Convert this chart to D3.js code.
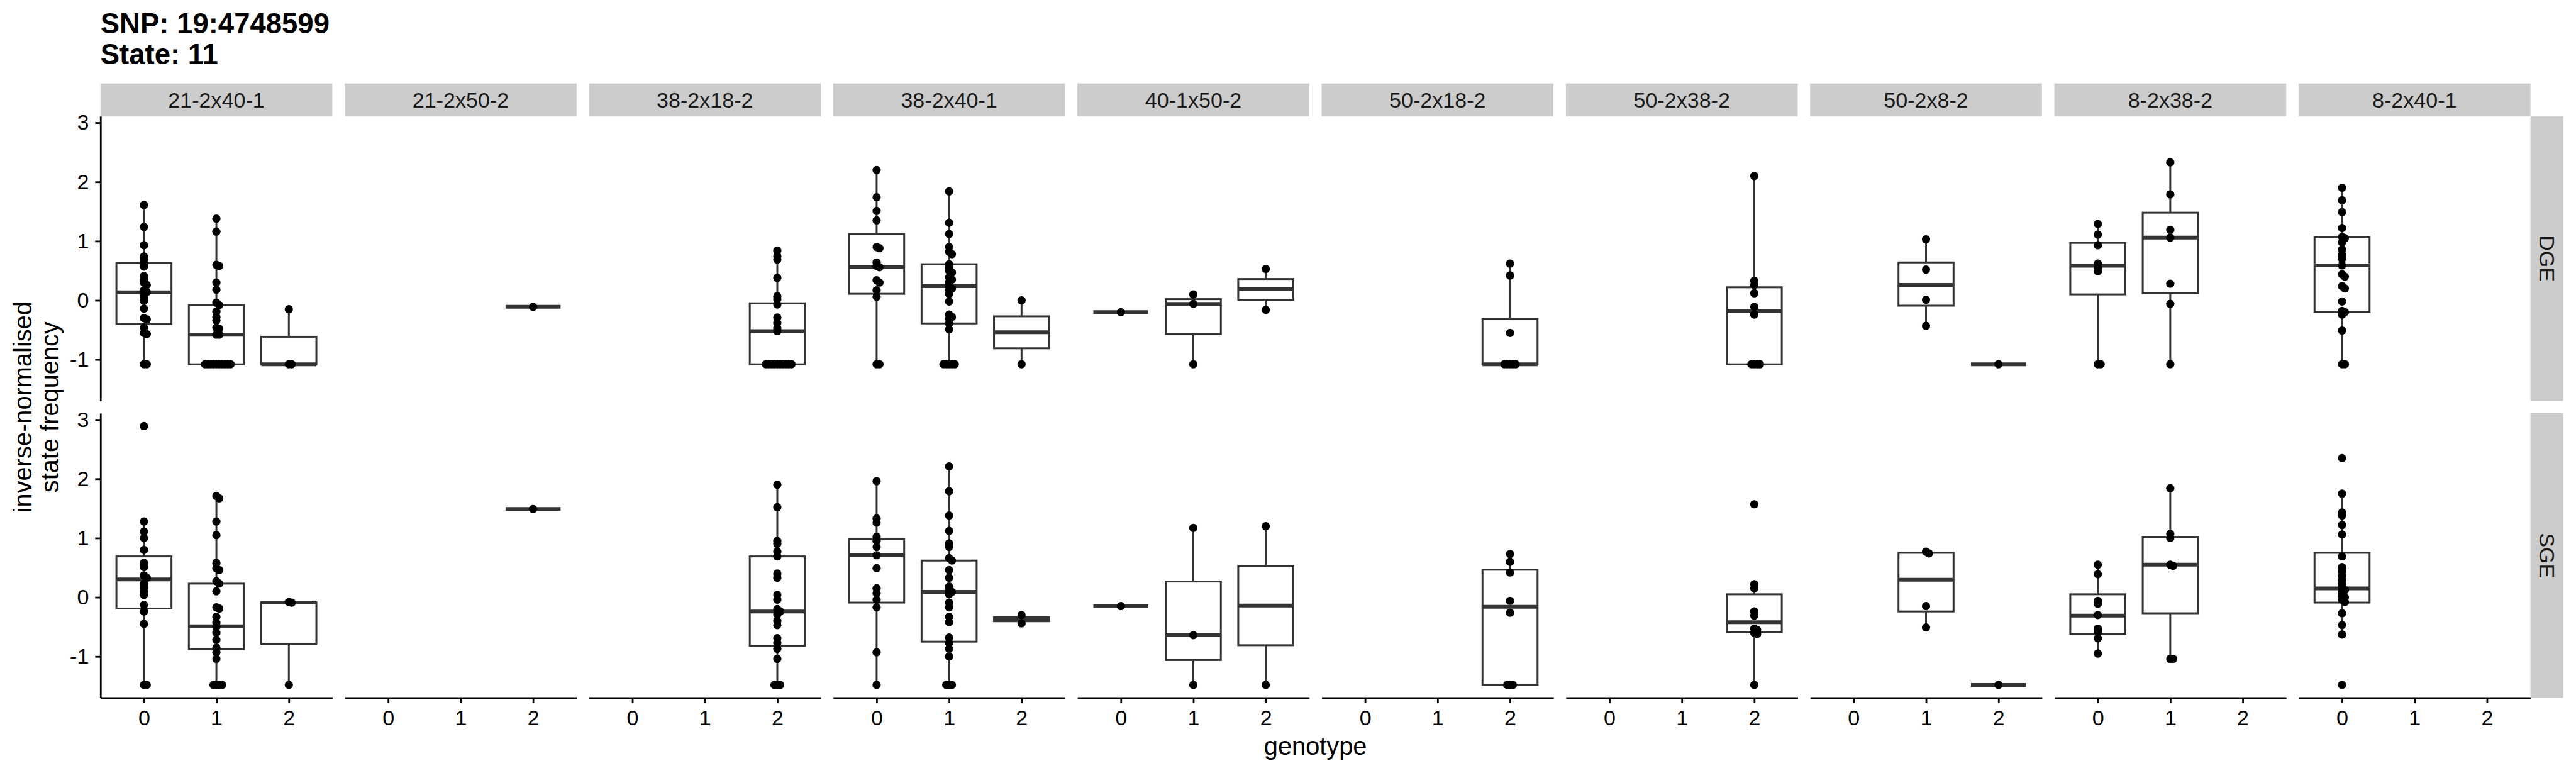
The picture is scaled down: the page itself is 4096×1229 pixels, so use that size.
<!DOCTYPE html>
<html><head><meta charset="utf-8">
<script src="https://cdn.jsdelivr.net/npm/d3@7"></script>
<style>body{margin:0;background:#fff}svg{display:block}</style>
</head><body><svg id="chart" width="4096" height="1229"></svg>
<script>
const titleLines = ["SNP: 19:4748599", "State: 11"];
const facets = ["21-2x40-1","21-2x50-2","38-2x18-2","38-2x40-1","40-1x50-2","50-2x18-2","50-2x38-2","50-2x8-2","8-2x38-2","8-2x40-1"];
const rows = ["DGE", "SGE"];
const genotypes = ["0", "1", "2"];
const yTicks = [-1, 0, 1, 2, 3];
const xLabel = "genotype";
const yLabelLines = ["inverse-normalised", "state frequency"];

// points per facet: [genotype 0, genotype 1, genotype 2]
const dgePoints = [
  [[1.61,1.24,0.93,0.74,0.69,0.62,0.57,0.41,0.35,0.30,0.26,0.17,0.14,0.10,0.05,-0.01,-0.14,-0.30,-0.32,-0.46,-0.55,-0.57,-1.08,-1.08],
   [1.38,1.16,0.60,0.58,0.30,0.18,-0.04,-0.08,-0.19,-0.28,-0.34,-0.46,-0.48,-0.58,-0.58,-1.08,-1.08,-1.08,-1.08,-1.08,-1.08,-1.08,-1.08,-1.08,-1.08],
   [-0.15,-1.08,-1.08]],
  [[], [], [-0.11]],
  [[], [], [0.84,0.75,0.69,0.38,0.07,0.02,-0.07,-0.29,-0.38,-0.47,-0.52,-1.08,-1.08,-1.08,-1.08,-1.08,-1.08,-1.08,-1.08,-1.08,-1.08]],
  [[2.20,1.74,1.51,1.35,0.90,0.88,0.64,0.58,0.56,0.34,0.30,0.17,0.06,-1.08,-1.08],
   [1.84,1.31,1.12,0.90,0.82,0.78,0.61,0.55,0.50,0.47,0.39,0.35,0.31,0.24,0.20,0.18,0.11,-0.02,-0.24,-0.28,-0.31,-0.39,-0.49,-1.08,-1.08,-1.08,-1.08,-1.08],
   [0.00,-1.08]],
  [[-0.20], [0.10,-0.06,-1.08], [0.53,-0.16]],
  [[], [], [0.62,0.42,-0.55,-1.08,-1.08,-1.08,-1.08,-1.08]],
  [[], [], [2.10,0.33,0.26,0.12,-0.11,-0.24,-1.08,-1.08,-1.08,-1.08]],
  [[], [1.03,0.52,0.01,-0.43], [-1.08]],
  [[1.29,1.11,0.93,0.62,0.55,0.49,-1.08,-1.08], [2.33,1.79,1.19,1.06,0.28,-0.06,-1.08], []],
  [[1.90,1.69,1.49,1.22,1.07,1.05,0.98,0.86,0.77,0.70,0.59,0.44,0.40,0.24,0.20,-0.02,-0.18,-0.20,-0.24,-0.51,-1.08,-1.08], [], []]
];
const sgePoints = [
  [[2.89,1.28,1.11,1.00,0.80,0.58,0.51,0.37,0.33,0.23,0.17,0.10,0.04,-0.13,-0.24,-0.45,-1.48,-1.48],
   [1.71,1.67,1.28,1.05,0.58,0.49,0.46,0.27,0.23,0.10,-0.17,-0.19,-0.33,-0.43,-0.50,-0.60,-0.72,-0.85,-0.93,-1.04,-1.48,-1.48,-1.48,-1.48],
   [-0.08,-0.09,-1.48]],
  [[], [], [1.49]],
  [[], [], [1.90,1.52,0.95,0.90,0.77,0.69,0.40,0.33,0.04,-0.04,-0.20,-0.24,-0.29,-0.40,-0.47,-0.69,-0.77,-0.87,-1.04,-1.48,-1.48,-1.48]],
  [[1.96,1.33,1.26,1.02,0.95,0.85,0.71,0.49,0.15,0.07,-0.04,-0.17,-0.93,-1.48],
   [2.21,1.79,1.38,1.12,0.91,0.85,0.66,0.62,0.46,0.33,0.18,0.12,0.09,0.05,-0.09,-0.17,-0.33,-0.42,-0.68,-0.77,-0.87,-1.00,-1.48,-1.48,-1.48],
   [-0.30,-0.44]],
  [[-0.15], [1.17,-0.64,-1.48], [1.20,-1.48]],
  [[], [], [0.73,0.60,0.42,-0.06,-0.26,-1.48,-1.48,-1.48]],
  [[], [], [1.57,0.22,0.15,-0.24,-0.31,-0.53,-0.55,-0.60,-0.62,-1.48]],
  [[], [0.77,0.74,-0.15,-0.51], [-1.48]],
  [[0.55,0.39,-0.06,-0.11,-0.30,-0.53,-0.58,-0.69,-0.95], [1.84,1.07,1.00,0.55,0.53,-1.04,-1.04], []],
  [[2.35,1.75,1.43,1.38,1.22,1.06,0.69,0.51,0.44,0.36,0.29,0.22,0.15,0.12,0.09,0.03,0.00,-0.04,-0.08,-0.27,-0.47,-0.63,-1.48], [], []]
];

// box statistics per facet and genotype: [lower whisker, q1, median, q3, upper whisker]
const dgeBoxes = [
  [[-1.08,-0.40,0.135,0.63,1.61], [-1.08,-1.08,-0.58,-0.08,1.38], [-1.08,-1.08,-1.08,-0.615,-0.15]],
  [null, null, [-0.11,-0.11,-0.11,-0.11,-0.11]],
  [null, null, [-1.08,-1.08,-0.52,-0.05,0.84]],
  [[-1.08,0.11,0.56,1.12,2.20], [-1.08,-0.39,0.24,0.61,1.84], [-1.08,-0.81,-0.54,-0.27,0.00]],
  [[-0.20,-0.20,-0.20,-0.20,-0.20], [-1.08,-0.57,-0.06,0.02,0.10], [-0.16,0.01,0.185,0.36,0.53]],
  [null, null, [-1.08,-1.08,-1.08,-0.31,0.62]],
  [null, null, [-1.08,-1.08,-0.175,0.22,2.10]],
  [null, [-0.43,-0.09,0.26,0.64,1.03], [-1.08,-1.08,-1.08,-1.08,-1.08]],
  [[-1.08,0.10,0.585,0.97,1.29], [-1.08,0.12,1.06,1.48,2.33], null],
  [[-1.08,-0.20,0.59,1.07,1.90], null, null]
];
const sgeBoxes = [
  [[-1.48,-0.19,0.30,0.69,1.28], [-1.48,-0.88,-0.49,0.23,1.71], [-1.48,-0.785,-0.09,-0.085,-0.08]],
  [null, null, [1.49,1.49,1.49,1.49,1.49]],
  [null, null, [-1.48,-0.82,-0.24,0.69,1.90]],
  [[-1.48,-0.09,0.71,0.98,1.96], [-1.48,-0.75,0.09,0.62,2.21], [-0.44,-0.405,-0.37,-0.335,-0.30]],
  [[-0.15,-0.15,-0.15,-0.15,-0.15], [-1.48,-1.06,-0.64,0.265,1.17], [-1.48,-0.81,-0.14,0.53,1.20]],
  [null, null, [-1.48,-1.48,-0.16,0.465,0.73]],
  [null, null, [-1.48,-0.59,-0.42,0.05,0.22]],
  [null, [-0.51,-0.24,0.295,0.75,0.77], [-1.48,-1.48,-1.48,-1.48,-1.48]],
  [[-0.95,-0.62,-0.31,0.05,0.55], [-1.04,-0.27,0.55,1.02,1.84], null],
  [[-0.63,-0.09,0.15,0.75,1.75], null, null]
];

// ---------- layout (reference px * 0.512) ----------
const S = 0.512;
const W = 4096, H = 1229;
const L = { left: 312*S, top: 361*S, pw: 720*S, ph: 884*S, gx: 38.5*S, gy: 38*S, strip: 102*S };
const FONT = "'Liberation Sans', Arial, Helvetica, sans-serif";
const BOXC = "#333333";

const svg = d3.select("#chart");
svg.append("rect").attr("width", W).attr("height", H).attr("fill", "#ffffff");

const pointSets = [dgePoints, sgePoints];
const boxSets = [dgeBoxes, sgeBoxes];
const allVals = pointSets.flat(3);
const ext = d3.extent(allVals);
const padY = (ext[1] - ext[0]) * 0.05;
const y = d3.scaleLinear().domain([ext[0] - padY, ext[1] + padY]).range([L.ph, 0]);
const x = d3.scalePoint().domain(genotypes).range([0, L.pw]).padding(0.6);
const boxW = 0.76 * x.step();
const R = 6.6;
const SP = 4.5;

function swarm(vals) {
  const pts = vals.map(v => ({ v, py: y(v) })).sort((a, b) => a.py - b.py);
  const placed = [];
  for (const p of pts) {
    let off = 0;
    for (let i = 0; i < 400; i++) {
      const c = i === 0 ? 0 : (i % 2 ? 1 : -1) * Math.ceil(i / 2) * SP;
      if (placed.every(q => Math.hypot(q.dx - c, q.py - p.py) >= SP - 1e-6)) { off = c; break; }
    }
    p.dx = off;
    placed.push(p);
  }
  return placed;
}

rows.forEach((rowName, r) => {
  facets.forEach((fname, f) => {
    const gx = L.left + f * (L.pw + L.gx);
    const gy = L.top + r * (L.ph + L.gy);
    const g = svg.append("g").attr("transform", `translate(${gx},${gy})`);

    // boxes
    boxSets[r][f].forEach((b, k) => {
      if (!b) return;
      const cx = x(genotypes[k]);
      const [lo, q1, med, q3, hi] = b;
      g.append("line").attr("x1", cx).attr("x2", cx).attr("y1", y(hi)).attr("y2", y(q3))
        .attr("stroke", BOXC).attr("stroke-width", 3);
      g.append("line").attr("x1", cx).attr("x2", cx).attr("y1", y(q1)).attr("y2", y(lo))
        .attr("stroke", BOXC).attr("stroke-width", 3);
      g.append("rect").attr("x", cx - boxW / 2).attr("y", y(q3)).attr("width", boxW)
        .attr("height", Math.max(0, y(q1) - y(q3)))
        .attr("fill", "#ffffff").attr("stroke", BOXC).attr("stroke-width", 3);
      g.append("line").attr("x1", cx - boxW / 2).attr("x2", cx + boxW / 2).attr("y1", y(med)).attr("y2", y(med))
        .attr("stroke", BOXC).attr("stroke-width", 6);
    });

    // points
    pointSets[r][f].forEach((vals, k) => {
      const cx = x(genotypes[k]);
      g.selectAll(null).data(swarm(vals)).enter().append("circle")
        .attr("cx", d => cx + d.dx).attr("cy", d => d.py).attr("r", R).attr("fill", "#000000");
    });

    // top strips
    if (r === 0) {
      svg.append("rect").attr("x", gx).attr("y", gy - L.strip).attr("width", L.pw).attr("height", L.strip).attr("fill", "#cccccc");
      svg.append("text").attr("x", gx + L.pw / 2).attr("y", gy - L.strip / 2).attr("text-anchor", "middle")
        .attr("dominant-baseline", "central").attr("font-family", FONT).attr("font-size", 34.1)
        .attr("fill", "#1a1a1a").text(fname);
    }
    // right strips
    if (f === facets.length - 1) {
      const sx = gx + L.pw;
      svg.append("rect").attr("x", sx).attr("y", gy).attr("width", L.strip).attr("height", L.ph).attr("fill", "#cccccc");
      svg.append("text").attr("transform", `translate(${sx + L.strip / 2},${gy + L.ph / 2}) rotate(90)`)
        .attr("text-anchor", "middle").attr("dominant-baseline", "central").attr("font-family", FONT)
        .attr("font-size", 34.1).attr("fill", "#1a1a1a").text(rowName);
    }
    // y axis
    if (f === 0) {
      const ax = g.append("g").call(d3.axisLeft(y).tickValues(yTicks).tickFormat(d => String(d))
        .tickSize(8.4).tickSizeOuter(0).tickPadding(10));
      ax.select(".domain").attr("stroke", "#000").attr("stroke-width", 2.8);
      ax.selectAll(".tick line").attr("stroke", "#000").attr("stroke-width", 2.8);
      ax.selectAll(".tick text").attr("font-family", FONT).attr("font-size", 34.1).attr("fill", "#000");
    }
    // x axis
    if (r === rows.length - 1) {
      const ax = g.append("g").attr("transform", `translate(0,${L.ph})`)
        .call(d3.axisBottom(x).tickSize(8.4).tickSizeOuter(0).tickPadding(11));
      ax.select(".domain").attr("stroke", "#000").attr("stroke-width", 2.8);
      ax.selectAll(".tick line").attr("stroke", "#000").attr("stroke-width", 2.8);
      ax.selectAll(".tick text").attr("font-family", FONT).attr("font-size", 34.1).attr("fill", "#000");
    }
  });
});

// title
const tt = svg.append("text").attr("font-family", FONT).attr("font-weight", "bold").attr("font-size", 45.5).attr("fill", "#000");
titleLines.forEach((t, i) => tt.append("tspan").attr("x", L.left).attr("y", [53, 102][i]).text(t));

// axis titles
const panelsRight = L.left + facets.length * L.pw + (facets.length - 1) * L.gx;
const panelsBottom = L.top + rows.length * L.ph + (rows.length - 1) * L.gy;
svg.append("text").attr("x", (L.left + panelsRight) / 2).attr("y", 1199.6).attr("text-anchor", "middle")
  .attr("font-family", FONT).attr("font-size", 39.8).attr("fill", "#000").text(xLabel);
const yt = svg.append("text").attr("transform", `translate(0,${(L.top + panelsBottom) / 2}) rotate(-90)`)
  .attr("text-anchor", "middle").attr("font-family", FONT).attr("font-size", 39.8).attr("fill", "#000");
yLabelLines.forEach((t, i) => yt.append("tspan").attr("x", 0).attr("y", [50, 93][i]).text(t));
</script>
</body></html>
